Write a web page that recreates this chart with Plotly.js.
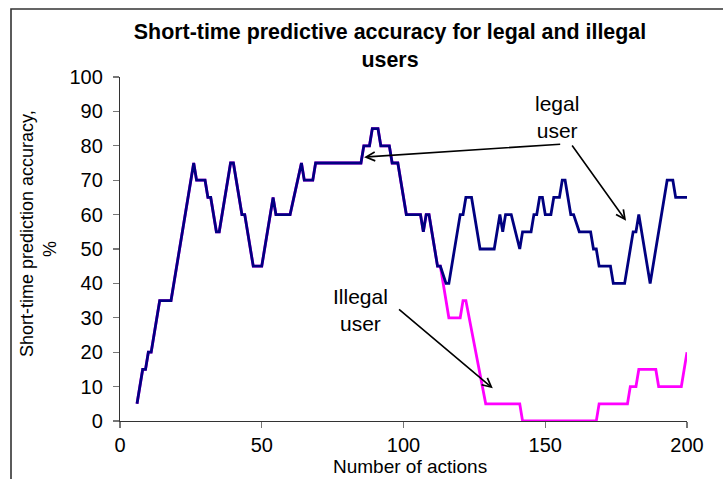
<!DOCTYPE html>
<html>
<head>
<meta charset="utf-8">
<script src="https://cdn.plot.ly/plotly-3.0.1.min.js"></script>
<style>html,body{margin:0;padding:0;background:#fff;}#chart{width:723px;height:479px;}</style>
</head>
<body>
<div id="chart"></div>
<script>
// Legal user: vertices of the short-time prediction accuracy line
const legalX = [6,8,9,10,11,14,18,26,27,30,31,32,34,35,39,40,43,44,47,50,54,55,60,64,65,68,69,85,86,88,89,91,92,95,96,98,101,106,107,108,109,112,113,115,116,120,121,122,124,127,132,134,135,136,138,141,142,145,146,147,148,149,150,152,153,155,156,157,159,160,162,166,167,168,169,173,174,178,181,182,183,187,193,195,196,200];
const legalY = [5,15,15,20,20,35,35,75,70,70,65,65,55,55,75,75,60,60,45,45,65,60,60,75,70,70,75,75,80,80,85,85,80,80,75,75,60,60,55,60,60,45,45,40,40,60,60,65,65,50,50,60,55,60,60,50,55,55,60,60,65,65,60,60,65,65,70,70,60,60,55,55,50,50,45,45,40,40,55,55,60,40,70,70,65,65];

// Illegal user: identical to legal up to action 113, then diverges
const illegalX = [6,8,9,10,11,14,18,26,27,30,31,32,34,35,39,40,43,44,47,50,54,55,60,64,65,68,69,85,86,88,89,91,92,95,96,98,101,106,107,108,109,112,113,116,120,121,122,129,141,142,168,169,179,180,182,183,189,190,198,200];
const illegalY = [5,15,15,20,20,35,35,75,70,70,65,65,55,55,75,75,60,60,45,45,65,60,60,75,70,70,75,75,80,80,85,85,80,80,75,75,60,60,55,60,60,45,45,30,30,35,35,5,5,0,0,5,5,10,10,15,15,10,10,20];

const xTicks = [0,50,100,150,200];
const yTicks = [0,10,20,30,40,50,60,70,80,90,100];

const W = 723, H = 479;
const M = {l:120, r:36, t:77, b:58};
const PW = W - M.l - M.r, PH = H - M.t - M.b;
const px = v => (v - M.l) / PW;      // pixel x -> paper
const py = v => (H - M.b - v) / PH;  // pixel y -> paper

const FONT = 'Arial, "Liberation Sans", sans-serif';

const traces = [
  {x: illegalX, y: illegalY, type:'scatter', mode:'lines', name:'Illegal user',
   line:{color:'#FF00FF', width:2.8}, hoverinfo:'skip'},
  {x: legalX, y: legalY, type:'scatter', mode:'lines', name:'legal user',
   line:{color:'#000080', width:2.8}, hoverinfo:'skip'}
];

const arrowBase = {showarrow:true, arrowhead:5, arrowsize:1.1, arrowwidth:1.6, arrowcolor:'#000',
  xref:'x', yref:'y', axref:'x', ayref:'y', text:'', standoff:0, startstandoff:0};

const layout = {
  width: W, height: H,
  margin: M,
  paper_bgcolor:'#fff', plot_bgcolor:'#fff',
  showlegend:false,
  font:{family:FONT, color:'#000'},
  title:{text:'<b>Short-time predictive accuracy for legal and illegal<br>users</b>',
    font:{family:FONT, size:21.4, color:'#000'},
    x:390/W, xanchor:'center', xref:'container',
    y:1-39/H, yanchor:'top', yref:'container'},
  xaxis:{range:[0,200], tickvals:xTicks, ticktext:xTicks.map(String),
    showgrid:false, zeroline:false, showline:true, linecolor:'#333', linewidth:1.2,
    ticks:'outside', ticklen:6, tickcolor:'#777', tickwidth:1.2,
    tickfont:{family:FONT, size:20, color:'#000'}, fixedrange:true},
  yaxis:{range:[0,100], tickvals:yTicks, ticktext:yTicks.map(String),
    showgrid:false, zeroline:false, showline:true, linecolor:'#333', linewidth:1.2,
    ticks:'outside', ticklen:6, tickcolor:'#777', tickwidth:1.2, ticklabelstandoff:6,
    tickfont:{family:FONT, size:20, color:'#000'}, fixedrange:true},
  annotations:[
    {text:'Number of actions', xref:'paper', yref:'paper', x:px(410), y:py(466),
     xanchor:'center', yanchor:'middle', showarrow:false, font:{family:FONT, size:19}},
    {text:'Short-time prediction accuracy,', xref:'paper', yref:'paper', x:px(27), y:py(234),
     xanchor:'center', yanchor:'middle', textangle:-90, showarrow:false, font:{family:FONT, size:18}},
    {text:'%', xref:'paper', yref:'paper', x:px(50), y:py(249),
     xanchor:'center', yanchor:'middle', textangle:-90, showarrow:false, font:{family:FONT, size:18}},
    {text:'legal<br>user', xref:'x', yref:'y', x:154.2, y:88.4, showarrow:false,
     xanchor:'center', yanchor:'middle', font:{family:FONT, size:21}},
    {text:'Illegal<br>user', xref:'x', yref:'y', x:84.7, y:32.3, showarrow:false,
     xanchor:'center', yanchor:'middle', font:{family:FONT, size:21}},
    Object.assign({}, arrowBase, {x:86.1, y:76.7, ax:155.8, ay:80.5}),
    Object.assign({}, arrowBase, {x:178.5, y:58.2, ax:159.1, ay:80.5}),
    Object.assign({}, arrowBase, {x:131.5, y:9.5, ax:97.9, ay:32.8})
  ],
  shapes:[
    {type:'rect', xref:'paper', yref:'paper', x0:px(11), x1:px(W+5), y0:py(H+5), y1:py(9),
     line:{color:'#333', width:1.6}, fillcolor:'rgba(0,0,0,0)', layer:'above'}
  ]
};

Plotly.newPlot('chart', traces, layout, {displayModeBar:false, staticPlot:true});
</script>
</body>
</html>
